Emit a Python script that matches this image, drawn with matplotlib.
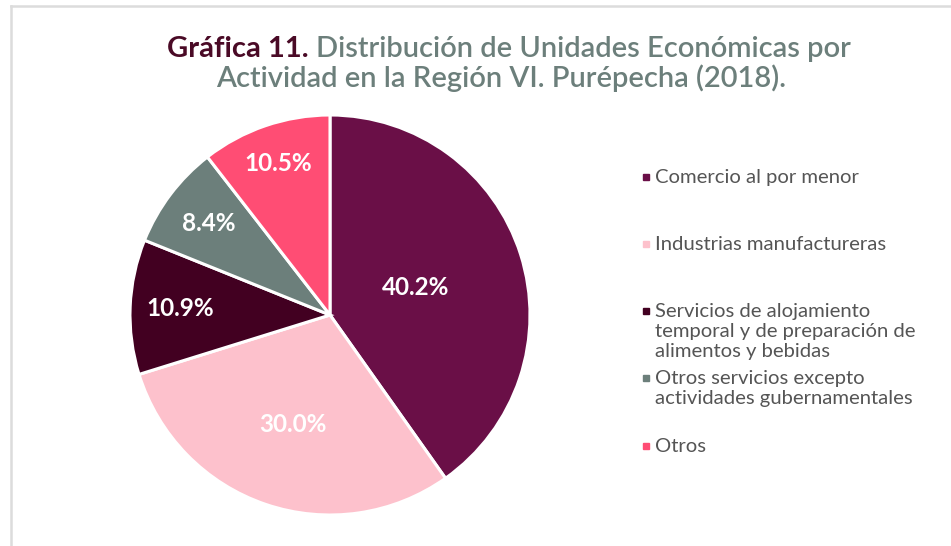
import matplotlib.pyplot as plt
from matplotlib.patches import Rectangle
import numpy as np

# Datos
categorias = ['Comercio al por menor',
              'Industrias manufactureras',
              'Servicios de alojamiento\ntemporal y de preparación de\nalimentos y bebidas',
              'Otros servicios excepto\nactividades gubernamentales',
              'Otros']
porcentajes = [40.2, 30.0, 10.9, 8.4, 10.5]
colores = ['#6a0f47', '#fdc1cc', '#420021', '#6c7f7b', '#ff4d74']

# distancia de cada etiqueta al centro (fracción del radio)
dist_etiquetas = [0.45, 0.58, 0.75, 0.76, 0.80]
# línea base de cada entrada de la leyenda (px desde arriba)
y_leyenda = [183, 250, 317, 384, 452]

W, H = 951, 546
fig = plt.figure(figsize=(W / 100, H / 100), dpi=100)
plt.rcParams['font.family'] = ['Lato', 'DejaVu Sans']

# marco gris
fig.add_artist(plt.Line2D([10.5 / W, 10.5 / W], [0, 1 - 5.5 / H], color='#dcdcdc', lw=1.8))
fig.add_artist(plt.Line2D([10.5 / W, 1], [1 - 5.5 / H, 1 - 5.5 / H], color='#dcdcdc', lw=1.8))

ax = fig.add_axes([130 / W, 31 / H, 400 / W, 400 / H])
wedges, textos = ax.pie(porcentajes, colors=colores, startangle=90, counterclock=False,
                        radius=1, wedgeprops=dict(edgecolor='white', linewidth=2.2))
ax.set_xlim(-1, 1)
ax.set_ylim(-1, 1)
ax.axis('off')

for w, p, d in zip(wedges, porcentajes, dist_etiquetas):
    ang = np.deg2rad((w.theta1 + w.theta2) / 2)
    ax.text(d * np.cos(ang), d * np.sin(ang), f'{p:.1f}%', color='white',
            fontsize=17.5, fontweight='bold', ha='center', va='center')

# leyenda manual
for cat, col, y in zip(categorias, colores, y_leyenda):
    fig.add_artist(Rectangle((643 / W, 1 - (y - 3) / H), 6 / W, 6 / H, color=col,
                             transform=fig.transFigure))
    for i, linea in enumerate(cat.split('\n')):
        fig.text(655 / W, 1 - (y + 20 * i) / H, linea, color='#555555', fontsize=14.6,
                 va='baseline', ha='left')

# título en dos colores
fig.canvas.draw()
r = fig.canvas.get_renderer()
cx = 509 / W
t1 = fig.text(0, 1 - 57 / H, 'Gráfica 11. ', color='#4a0a26', fontsize=21,
              fontweight='bold', va='baseline', ha='left')
t2 = fig.text(0, 1 - 57 / H, 'Distribución de Unidades Económicas por', color='#6c7f7b',
              fontsize=21, fontweight='semibold', va='baseline', ha='left')
w1 = t1.get_window_extent(r).width / W
w2 = t2.get_window_extent(r).width / W
x0 = cx - (w1 + w2) / 2
t1.set_x(x0)
t2.set_x(x0 + w1)
fig.text(501 / W, 1 - 87 / H, 'Actividad en la Región VI. Purépecha (2018).', color='#6c7f7b',
         fontsize=21, fontweight='semibold', va='baseline', ha='center')

fig.savefig('out.png', dpi=100)
